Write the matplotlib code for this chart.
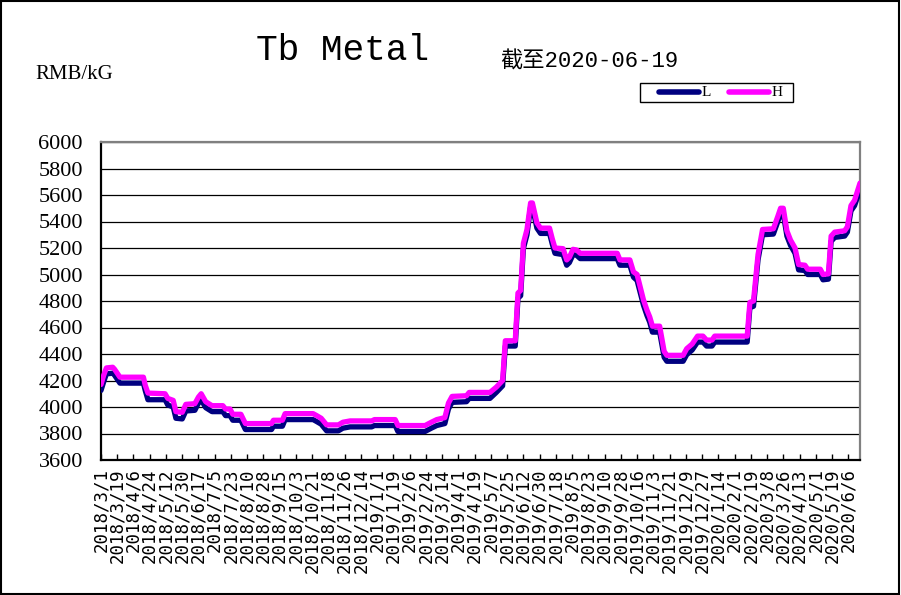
import matplotlib
matplotlib.use("Agg")
import matplotlib.pyplot as plt
from matplotlib.lines import Line2D
from matplotlib.patches import Rectangle
import pandas as pd

# ---------------- data ----------------
dates = [
    "2018-03-01", "2018-03-04", "2018-03-07", "2018-03-14", "2018-03-16", "2018-03-19",
    "2018-03-22", "2018-04-17", "2018-04-19", "2018-04-22", "2018-05-11", "2018-05-14",
    "2018-05-20", "2018-05-23", "2018-05-30", "2018-06-03", "2018-06-13", "2018-06-17",
    "2018-06-20", "2018-06-25", "2018-07-02", "2018-07-14", "2018-07-17", "2018-07-22",
    "2018-07-25", "2018-08-03", "2018-08-08", "2018-09-06", "2018-09-08", "2018-09-18",
    "2018-09-21", "2018-10-22", "2018-10-26", "2018-10-31", "2018-11-06", "2018-11-19",
    "2018-11-24", "2018-12-02", "2018-12-26", "2018-12-29", "2019-01-21", "2019-01-24",
    "2019-02-23", "2019-03-02", "2019-03-08", "2019-03-17", "2019-03-21", "2019-03-25",
    "2019-04-10", "2019-04-13", "2019-05-06", "2019-05-13", "2019-05-20", "2019-05-23",
    "2019-06-03", "2019-06-06", "2019-06-09", "2019-06-12", "2019-06-16", "2019-06-20",
    "2019-06-22", "2019-06-27", "2019-07-01", "2019-07-11", "2019-07-14", "2019-07-17",
    "2019-07-26", "2019-07-30", "2019-08-02", "2019-08-06", "2019-08-10", "2019-08-14",
    "2019-09-24", "2019-09-27", "2019-10-08", "2019-10-12", "2019-10-16", "2019-10-23",
    "2019-10-27", "2019-10-30", "2019-11-02", "2019-11-10", "2019-11-15", "2019-11-18",
    "2019-12-06", "2019-12-10", "2019-12-16", "2019-12-22", "2019-12-28", "2020-01-01",
    "2020-01-07", "2020-01-10", "2020-02-15", "2020-02-18", "2020-02-22", "2020-02-27",
    "2020-03-03", "2020-03-15", "2020-03-20", "2020-03-23", "2020-03-26", "2020-03-30",
    "2020-04-03", "2020-04-08", "2020-04-12", "2020-04-19", "2020-04-22", "2020-05-06",
    "2020-05-09", "2020-05-15", "2020-05-18", "2020-05-22", "2020-06-02", "2020-06-05",
    "2020-06-09", "2020-06-13", "2020-06-19",
]

price_h = [
    4170, 4240, 4295, 4300, 4285, 4255,
    4225, 4225, 4165, 4105, 4100, 4065,
    4050, 3965, 3960, 4020, 4025, 4075,
    4100, 4040, 4010, 4010, 3985, 3985,
    3945, 3945, 3875, 3875, 3900, 3900,
    3950, 3950, 3935, 3915, 3865, 3865,
    3885, 3895, 3895, 3905, 3905, 3860,
    3860, 3885, 3905, 3920, 4030, 4080,
    4085, 4110, 4110, 4150, 4200, 4500,
    4500, 4860, 4880, 5235, 5340, 5540,
    5540, 5390, 5350, 5350, 5270, 5200,
    5195, 5110, 5130, 5190, 5185, 5160,
    5160, 5110, 5110, 5020, 5000, 4810,
    4730, 4680, 4610, 4610, 4420, 4390,
    4390, 4440, 4475, 4535, 4535, 4505,
    4505, 4535, 4535, 4790, 4800, 5150,
    5340, 5345, 5440, 5500, 5500, 5330,
    5260, 5200, 5075, 5070, 5040, 5040,
    5000, 5005, 5290, 5320, 5330, 5360,
    5520, 5560, 5690,
]

price_l = [
    4125, 4190, 4250, 4255, 4240, 4210,
    4180, 4180, 4125, 4055, 4055, 4015,
    4000, 3915, 3910, 3970, 3975, 4030,
    4055, 3995, 3965, 3965, 3935, 3935,
    3900, 3900, 3830, 3830, 3855, 3855,
    3905, 3905, 3890, 3870, 3820, 3820,
    3840, 3850, 3850, 3860, 3860, 3815,
    3815, 3840, 3860, 3875, 3985, 4035,
    4040, 4065, 4065, 4110, 4160, 4460,
    4460, 4820, 4840, 5195, 5300, 5510,
    5510, 5350, 5310, 5310, 5230, 5160,
    5150, 5070, 5090, 5150, 5145, 5120,
    5120, 5070, 5070, 4980, 4955, 4770,
    4690, 4640, 4565, 4565, 4375, 4345,
    4345, 4395, 4430, 4490, 4490, 4460,
    4460, 4490, 4490, 4750, 4760, 5110,
    5300, 5305, 5400, 5460, 5460, 5290,
    5220, 5160, 5035, 5030, 5000, 5000,
    4960, 4965, 5250, 5280, 5290, 5320,
    5480, 5520, 5640,
]

tick_labels = [
    "2018/3/1", "2018/3/19", "2018/4/6", "2018/4/24", "2018/5/12", "2018/5/30",
    "2018/6/17", "2018/7/5", "2018/7/23", "2018/8/10", "2018/8/28", "2018/9/15",
    "2018/10/3", "2018/10/21", "2018/11/8", "2018/11/26", "2018/12/14", "2019/1/1",
    "2019/1/19", "2019/2/6", "2019/2/24", "2019/3/14", "2019/4/1", "2019/4/19",
    "2019/5/7", "2019/5/25", "2019/6/12", "2019/6/30", "2019/7/18", "2019/8/5",
    "2019/8/23", "2019/9/10", "2019/9/28", "2019/10/16", "2019/11/3", "2019/11/21",
    "2019/12/9", "2019/12/27", "2020/1/14", "2020/2/1", "2020/2/19", "2020/3/8",
    "2020/3/26", "2020/4/13", "2020/5/1", "2020/5/19", "2020/6/6",
]

y_ticks = [3600, 3800, 4000, 4200, 4400, 4600, 4800, 5000, 5200, 5400, 5600, 5800, 6000]
x_start, x_end = "2018-03-01", "2020-06-19"

title = "Tb Metal"
unit_label = "RMB/kG"
asof_label = "截至2020-06-19"
series_names = ["L", "H"]
color_l = "#000080"
color_h = "#FF00FF"

# ---------------- figure ----------------
W, H = 901, 595
fig = plt.figure(figsize=(W / 100, H / 100), dpi=100)
fig.patch.set_facecolor("white")

def fx(px):
    return px / W

def fy(py):
    return 1 - py / H

ax = fig.add_axes([fx(101), fy(460), fx(860) - fx(101), fy(142) - fy(460)])

x = pd.to_datetime(dates)
ax.plot(x, price_l, color=color_l, lw=3.8, solid_joinstyle="round",
        solid_capstyle="round", zorder=3)
ax.plot(x, price_h, color=color_h, lw=3.8, solid_joinstyle="round",
        solid_capstyle="round", zorder=4)

ax.set_xlim(pd.Timestamp(x_start), pd.Timestamp(x_end))
ax.set_ylim(y_ticks[0], y_ticks[-1])

tick_pos = pd.to_datetime(tick_labels, format="%Y/%m/%d")
ax.set_xticks(tick_pos)
ax.set_xticklabels(tick_labels, rotation=90, family="DejaVu Sans Mono",
                   fontsize=12.5, va="top", ha="center")
ax.tick_params(axis="x", direction="in", length=4, width=1, color="black", pad=6)

ax.set_yticks(y_ticks)
ax.set_yticklabels([str(v) for v in y_ticks], family="Liberation Serif", fontsize=16)
ax.tick_params(axis="y", length=0, pad=13)

ax.yaxis.grid(True, color="black", lw=0.9, zorder=1)
ax.set_axisbelow(True)

for s in ["left", "bottom"]:
    ax.spines[s].set_color("black")
    ax.spines[s].set_linewidth(1.6)
for s in ["top", "right"]:
    ax.spines[s].set_color("#808080")
    ax.spines[s].set_linewidth(1.6)

# ---------------- texts ----------------
fig.text(fx(342), fy(60), title, ha="center", va="baseline",
         family="Liberation Mono", fontsize=26)
fig.text(fx(35), fy(79), unit_label, ha="left", va="baseline",
         family="Liberation Serif", fontsize=15)
fig.text(fx(500), fy(68), asof_label, ha="left", va="baseline",
         family=["Liberation Mono", "Noto Sans CJK SC"], fontsize=16)

# ---------------- legend (manual) ----------------
fig.add_artist(Rectangle((fx(640), fy(102)), fx(793) - fx(640), fy(83) - fy(102),
                         transform=fig.transFigure, fill=True, fc="white",
                         ec="black", lw=1.0))
ly = fy(92)
fig.add_artist(Line2D([fx(659), fx(699)], [ly, ly], transform=fig.transFigure,
                      color=color_l, lw=4, solid_capstyle="round"))
fig.text(fx(702), ly, series_names[0], ha="left", va="center",
         family="Liberation Serif", fontsize=11)
fig.add_artist(Line2D([fx(729), fx(769)], [ly, ly], transform=fig.transFigure,
                      color=color_h, lw=4, solid_capstyle="round"))
fig.text(fx(772), ly, series_names[1], ha="left", va="center",
         family="Liberation Serif", fontsize=11)

# figure border
fig.add_artist(Rectangle((0.0008, 0.0017), 0.9975, 0.9966, transform=fig.transFigure,
                         fill=False, ec="black", lw=1.5))

fig.savefig("out.png", dpi=100, facecolor="white")
